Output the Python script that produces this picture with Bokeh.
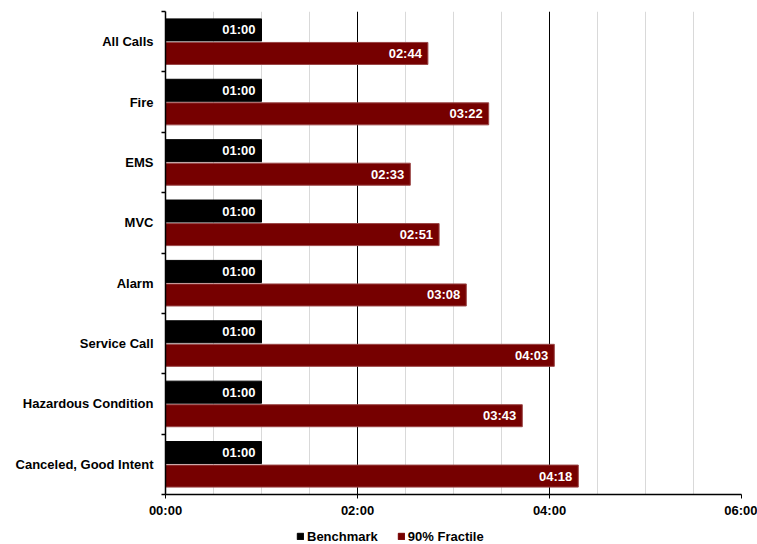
from bokeh.plotting import figure
from bokeh.models import Range1d, FixedTicker, ColumnDataSource, Legend, LegendItem
from bokeh.layouts import column
from bokeh.embed import file_html
from bokeh.resources import INLINE
from bokeh.core.properties import value

categories = ["All Calls", "Fire", "EMS", "MVC", "Alarm", "Service Call",
              "Hazardous Condition", "Canceled, Good Intent"]
benchmark = ["01:00", "01:00", "01:00", "01:00", "01:00", "01:00", "01:00", "01:00"]
fractile = ["02:44", "03:22", "02:33", "02:51", "03:08", "04:03", "03:43", "04:18"]
x_tick_labels = ["00:00", "02:00", "04:00", "06:00"]
series_names = ["Benchmark", "90% Fractile"]
series_colors = ["black", "#760000"]


def secs(s):
    m, ss = s.split(":")
    return int(m) * 60 + int(ss)


FONT = value("Liberation Sans")
n = len(categories)
centers = [n - i - 0.5 for i in range(n)]
off = 0.195
bh = 0.365

src_b = ColumnDataSource(dict(y=[c + off for c in centers],
                              x=[secs(v) for v in benchmark], lab=benchmark))
src_f = ColumnDataSource(dict(y=[c - off for c in centers],
                              x=[secs(v) for v in fractile], lab=fractile))

x_ticks = [secs(t) for t in x_tick_labels]

p = figure(width=757, height=521, output_backend="svg", toolbar_location=None,
           x_range=Range1d(0, x_ticks[-1]), y_range=Range1d(0, n),
           min_border_left=165, min_border_right=16, min_border_top=11,
           min_border_bottom=27)
p.outline_line_color = None
p.background_fill_color = "white"

p.hbar(y="y", right="x", left=0, height=bh, source=src_b,
       fill_color=series_colors[0], line_color=series_colors[0])
p.hbar(y="y", right="x", left=0, height=bh, source=src_f,
       fill_color=series_colors[1], line_color="#9a4646", line_width=1)

for s in (src_b, src_f):
    p.text(x="x", y="y", text="lab", source=s, x_offset=-6, text_align="right",
           text_baseline="middle", text_color="white", text_font=FONT,
           text_font_style="bold", text_font_size="13px")

# x axis
xax = p.xaxis[0]
xax.ticker = FixedTicker(ticks=x_ticks, minor_ticks=list(range(0, x_ticks[-1] + 1, 30)))
xax.major_label_overrides = {t: l for t, l in zip(x_ticks, x_tick_labels)}
xax.major_label_text_font = "Liberation Sans"
xax.major_label_text_font_style = "bold"
xax.major_label_text_font_size = "13px"
xax.major_label_text_color = "black"
xax.axis_line_color = "black"
xax.axis_line_width = 1.5
xax.major_tick_line_color = "black"
xax.major_tick_out = 4
xax.major_tick_in = 0
xax.minor_tick_line_color = None
xax.major_label_standoff = 4

# y axis
yax = p.yaxis[0]
yax.ticker = FixedTicker(ticks=centers, minor_ticks=list(range(0, n + 1)))
yax.major_label_overrides = {c: cat for c, cat in zip(centers, categories)}
yax.major_label_text_font = "Liberation Sans"
yax.major_label_text_font_style = "bold"
yax.major_label_text_font_size = "13px"
yax.major_label_text_color = "black"
yax.axis_line_color = "black"
yax.axis_line_width = 1.5
yax.major_tick_line_color = None
yax.major_tick_out = 0
yax.major_tick_in = 0
yax.minor_tick_line_color = "black"
yax.minor_tick_line_width = 1.5
yax.minor_tick_out = 4
yax.minor_tick_in = 0
yax.major_label_standoff = 8

p.xgrid.grid_line_color = "black"
p.xgrid.grid_line_width = 1
p.xgrid.minor_grid_line_color = "#d9d9d9"
p.ygrid.grid_line_color = None

# legend strip below the chart
q = figure(width=757, height=23, output_backend="svg", toolbar_location=None,
           x_range=Range1d(0, 1), y_range=Range1d(0, 1), min_border=0,
           x_axis_location=None, y_axis_location=None)
q.outline_line_color = None
q.xgrid.visible = False
q.ygrid.visible = False
leg_rs = []
for name, col in zip(series_names, series_colors):
    r = q.hbar(y=[0.5], right=[1], left=0, height=0.5, fill_color=col, line_color=col)
    r.visible = False
    leg_rs.append((name, r))

legend = Legend(items=[LegendItem(label=nm, renderers=[r]) for nm, r in leg_rs],
                orientation="horizontal", location=(131, 0),
                label_text_font="Liberation Sans", label_text_font_style="bold",
                label_text_font_size="13px", label_text_color="black",
                glyph_width=8, glyph_height=8,
                label_height=16, label_standoff=3, spacing=19, padding=1, margin=0,
                border_line_color=None, background_fill_alpha=0,
                inactive_fill_alpha=0, click_policy="none")
q.add_layout(legend)

layout = column(p, q, spacing=0)
open("out.html", "w").write(file_html(layout, INLINE))
